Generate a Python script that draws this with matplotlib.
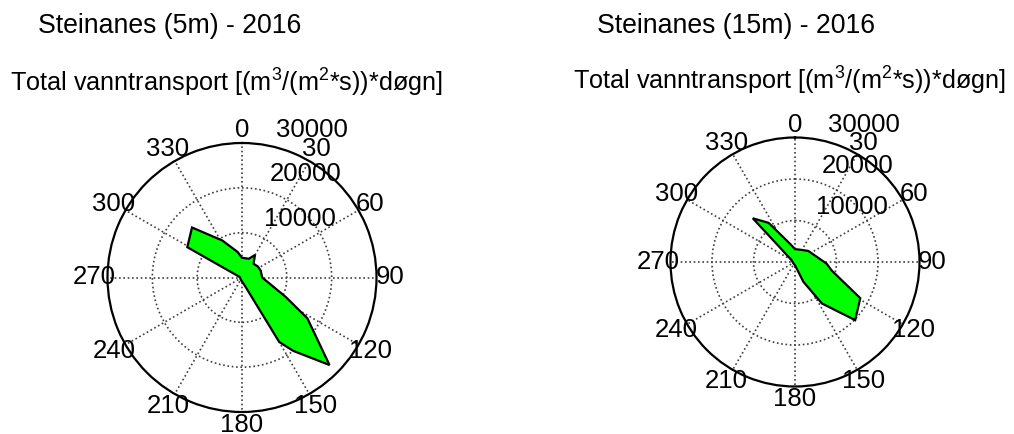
import numpy as np
import matplotlib
matplotlib.use('Agg')
import matplotlib.pyplot as plt

plt.rcParams['font.family'] = ['Liberation Sans', 'DejaVu Sans']
plt.rcParams['mathtext.fontset'] = 'custom'
plt.rcParams['mathtext.rm'] = 'Liberation Sans'
plt.rcParams['mathtext.default'] = 'regular'

# values (compass degrees, transport)
angles_5m = [0, 20, 30, 40, 55, 70, 90, 114, 122, 135, 145, 150, 159, 180, 220, 260, 285, 299, 315, 332, 350]
values_5m = [4400, 4450, 5800, 4000, 4300, 4450, 4500, 10700, 17200, 27600, 20000, 16600, 2300, 900, 500, 400, 600, 13950, 15770, 9350, 5800]

angles_15m = [0, 22, 50, 93, 103, 119, 134, 147, 157, 180, 240, 300, 316, 326, 345]
values_15m = [3100, 3200, 4160, 7630, 9060, 17980, 20160, 11920, 5200, 800, 500, 1000, 14650, 11380, 4500]

spoke_angles = list(range(0, 360, 30))
ring_values = [10000, 20000, 30000]
titles = ['Steinanes (5m) - 2016', 'Steinanes (15m) - 2016']
subtitle = 'Total vanntransport [(m$^3$/(m$^2$*s))*døgn]'
rmax = 30000

fig = plt.figure(figsize=(10.14, 4.34), dpi=100)
W, H = 1014.0, 434.0


def rose(cx, cy, rad, ang, val, title, tx, ty, sx, sy):
    ax = fig.add_axes([(cx - rad) / W, (H - cy - rad) / H, 2 * rad / W, 2 * rad / H],
                      projection='polar')
    ax.set_theta_zero_location('N')
    ax.set_theta_direction(-1)
    ax.set_ylim(0, rmax)
    ax.set_xticks(np.deg2rad(spoke_angles))
    ax.set_xticklabels([])
    ax.set_yticks(ring_values[:-1])
    ax.set_yticklabels([])
    ax.grid(True, linestyle=(0, (1, 1.6)), color='0.25', linewidth=1.2)
    ax.spines['polar'].set_linewidth(1.6)
    ax.spines['polar'].set_color('black')

    th = np.deg2rad(ang)
    ax.fill(th, val, facecolor='#00ff00', edgecolor='black', linewidth=1.6, zorder=3)

    for a in spoke_angles:
        ax.text(np.deg2rad(a), rmax * 1.1, str(a), ha='center', va='center',
                fontsize=18.5, clip_on=False)
    for r in ring_values:
        ax.annotate(str(r), xy=(np.deg2rad(8), r + rmax / 3 / 20), xytext=(15, 12),
                    textcoords='offset pixels', ha='left', va='center', fontsize=18.5,
                    annotation_clip=False)

    fig.text(tx / W, 1 - ty / H, title, fontsize=19.2, ha='left', va='baseline')
    fig.text(sx / W, 1 - sy / H, subtitle, fontsize=18.2, ha='left', va='baseline')
    return ax


rose(242, 277.5, 134.5, angles_5m, values_5m, titles[0], 38, 33, 10, 92)
rose(795, 262, 124.5, angles_15m, values_15m, titles[1], 597, 33, 573, 90)

fig.savefig('out.png', dpi=100)
